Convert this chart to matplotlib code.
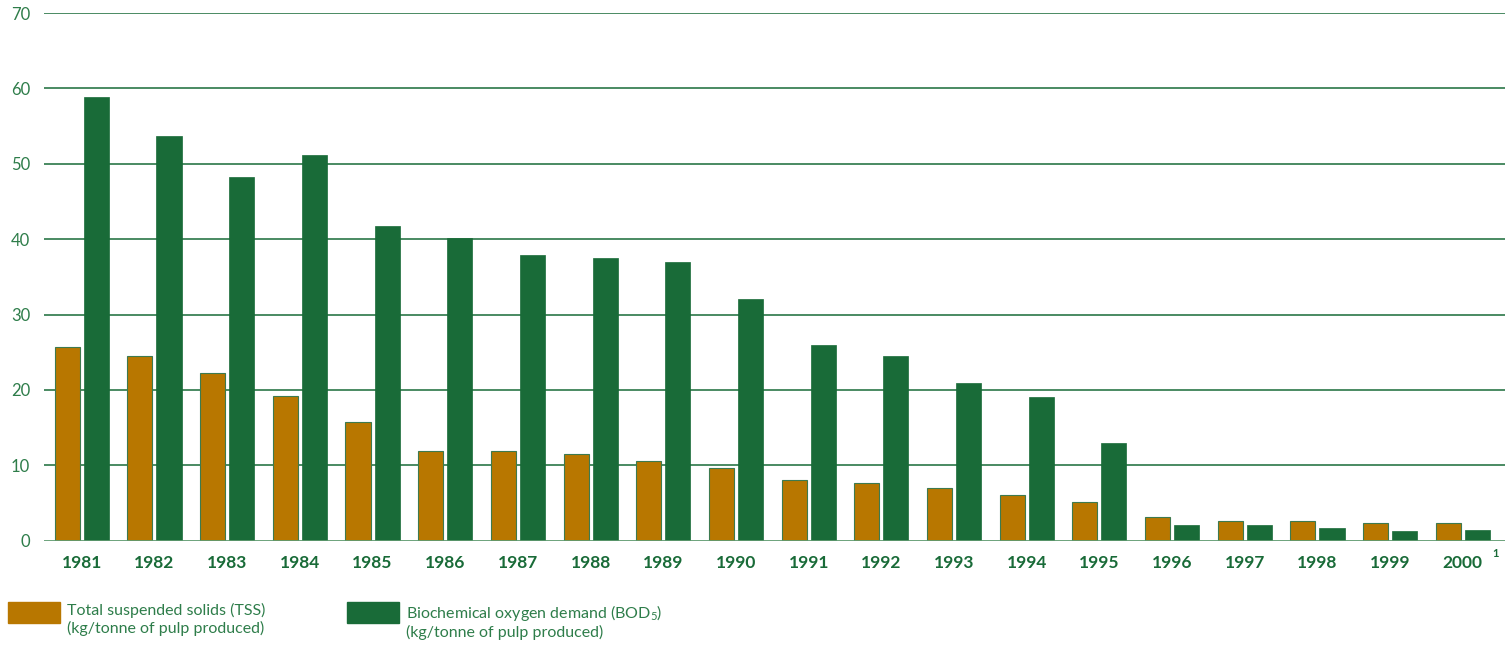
import matplotlib
matplotlib.use("Agg")
import matplotlib.pyplot as plt
import numpy as np

years = ['1981', '1982', '1983', '1984', '1985', '1986', '1987', '1988', '1989', '1990',
         '1991', '1992', '1993', '1994', '1995', '1996', '1997', '1998', '1999', '2000']
tss = [25.7, 24.5, 22.3, 19.2, 15.8, 11.9, 11.9, 11.5, 10.6, 9.6,
       8.1, 7.6, 7.0, 6.1, 5.1, 3.1, 2.6, 2.6, 2.4, 2.3]
bod = [58.8, 53.7, 48.2, 51.2, 41.8, 40.2, 37.9, 37.5, 37.0, 32.0,
       26.0, 24.5, 20.9, 19.1, 12.9, 2.1, 2.1, 1.7, 1.3, 1.4]
yticks = [0, 10, 20, 30, 40, 50, 60, 70]
tss_label = 'Total suspended solids (TSS)\n(kg/tonne of pulp produced)'
bod_label = 'Biochemical oxygen demand (BOD$_5$)\n(kg/tonne of pulp produced)'

orange = '#b87700'
green = '#196b38'
text_green = '#2e7d4a'

plt.rcParams['font.family'] = ['Lato', 'DejaVu Sans']
plt.rcParams['mathtext.default'] = 'regular'

fig = plt.figure(figsize=(15.1, 6.53), dpi=100)
ax = fig.add_axes([44/1510, 1 - 540.7/653, (1505-44)/1510, (540.7-13)/653])

x = np.arange(len(years))
w = 0.345
ax.bar(x - 0.2, tss, w, color=orange, edgecolor='#3d7a4f', linewidth=0.8, zorder=3)
ax.bar(x + 0.2, bod, w, color=green, edgecolor=green, linewidth=0.5, zorder=3)

ax.set_ylim(0, 70)
ax.set_xlim(-0.52, 19.58)
ax.set_yticks(yticks)
for t in yticks[1:]:
    ax.axhline(t, color=green, linewidth=1.1, zorder=1)
ax.axhline(0, color='#5f9a70', linewidth=2, zorder=4)

for s in ax.spines.values():
    s.set_visible(False)
ax.tick_params(axis='both', length=0)
ax.set_yticklabels([str(t) for t in yticks], color=text_green, fontsize=12)
ax.tick_params(axis='y', pad=10)
ax.set_xticks(x)
ax.set_xticklabels(years, color=green, fontsize=12.5, fontweight='bold')
ax.tick_params(axis='x', pad=10)
ax.text(19.40, -1.7, '1', color=green, fontsize=8, fontweight='bold',
        ha='left', va='center')

# legend drawn by hand at the bottom
fig.patches.append(plt.Rectangle((8/1510, 1 - 623/653), 52/1510, 21/653,
                                 transform=fig.transFigure, color=orange))
fig.patches.append(plt.Rectangle((347/1510, 1 - 623/653), 52/1510, 21/653,
                                 transform=fig.transFigure, color=green))
fig.text(67/1510, 1 - 603/653, tss_label, color=text_green, fontsize=11.5,
         va='top', linespacing=1.2)
fig.text(406/1510, 1 - 603/653, bod_label, color=text_green, fontsize=11.5,
         va='top', linespacing=1.2)

fig.savefig('out.png', dpi=100)
